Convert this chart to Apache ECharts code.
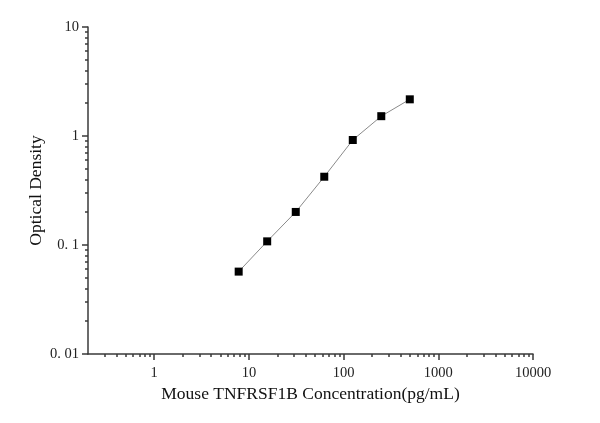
<!DOCTYPE html>
<html>
<head>
<meta charset="utf-8">
<script src="https://cdn.jsdelivr.net/npm/echarts@6/dist/echarts.min.js"></script>
<style>
  html, body { margin: 0; padding: 0; background: #fff; }
  #chart { width: 600px; height: 423px; }
</style>
</head>
<body>
<div id="chart"></div>
<script>
// standard curve points
var concList = [7.8, 15.6, 31.25, 62.5, 125, 250, 500];
var odList = [0.057, 0.108, 0.201, 0.423, 0.919, 1.52, 2.17];

// axis ticks
var xMajorTicks = [1, 10, 100, 1000, 10000];
var xMajorLabels = ['1', '10', '100', '1000', '10000'];
var xMinorTicks = [0.3, 0.4, 0.5, 0.6, 0.7, 0.8, 0.9,
  2, 3, 4, 5, 6, 7, 8, 9,
  20, 30, 40, 50, 60, 70, 80, 90,
  200, 300, 400, 500, 600, 700, 800, 900,
  2000, 3000, 4000, 5000, 6000, 7000, 8000, 9000];
var yMajorTicks = [0.01, 0.1, 1, 10];
var yMajorLabels = ['0. 01', '0. 1', '1', '10'];
var yMinorTicks = [0.02, 0.03, 0.04, 0.05, 0.06, 0.07, 0.08, 0.09,
  0.2, 0.3, 0.4, 0.5, 0.6, 0.7, 0.8, 0.9,
  2, 3, 4, 5, 6, 7, 8, 9];

var FONT = 'Liberation Serif';
var AXIS_COLOR = '#3a3a3a';

function pickLabel(ticks, labels, v) {
  var best = 0;
  for (var i = 1; i < ticks.length; i++) {
    if (Math.abs(Math.log(ticks[i] / v)) < Math.abs(Math.log(ticks[best] / v))) best = i;
  }
  return labels[best];
}

var gridBox = { left: 88, right: 67, top: 27, bottom: 69 };

var option = {
  animation: false,
  grid: [
    Object.assign({}, gridBox),
    Object.assign({}, gridBox)
  ],
  xAxis: [{
    type: 'log',
    gridIndex: 0,
    min: 0.2,
    max: 10000,
    position: 'bottom',
    name: 'Mouse TNFRSF1B Concentration(pg/mL)',
    nameLocation: 'middle',
    nameGap: 31,
    nameMoveOverlap: false,
    nameTextStyle: { fontFamily: FONT, fontSize: 17.5, color: '#111' },
    axisLine: { show: true, lineStyle: { color: AXIS_COLOR, width: 1.5 } },
    axisTick: { show: true, length: 6, customValues: xMajorTicks, lineStyle: { color: AXIS_COLOR, width: 1.5 } },
    axisLabel: {
      customValues: xMajorTicks,
      margin: 12,
      fontFamily: FONT, fontSize: 14.5, color: '#222',
      formatter: function(v) { return pickLabel(xMajorTicks, xMajorLabels, v); }
    },
    splitLine: { show: false }
  }, {
    type: 'log',
    gridIndex: 1,
    min: 0.2,
    max: 10000,
    position: 'bottom',
    axisLine: { show: false },
    axisTick: { show: true, length: 3, customValues: xMinorTicks, lineStyle: { color: AXIS_COLOR, width: 1.5 } },
    axisLabel: { show: false },
    splitLine: { show: false }
  }],
  yAxis: [{
    type: 'log',
    gridIndex: 0,
    min: 0.01,
    max: 10,
    position: 'left',
    name: 'Optical Density',
    nameLocation: 'middle',
    nameGap: 43,
    nameMoveOverlap: false,
    nameTextStyle: { fontFamily: FONT, fontSize: 17.5, color: '#111' },
    axisLine: { show: true, lineStyle: { color: AXIS_COLOR, width: 1.5 } },
    axisTick: { show: true, length: 6, customValues: yMajorTicks, lineStyle: { color: AXIS_COLOR, width: 1.5 } },
    axisLabel: {
      customValues: yMajorTicks,
      margin: 9,
      fontFamily: FONT, fontSize: 14.5, color: '#222',
      formatter: function(v) { return pickLabel(yMajorTicks, yMajorLabels, v); }
    },
    splitLine: { show: false }
  }, {
    type: 'log',
    gridIndex: 1,
    min: 0.01,
    max: 10,
    position: 'left',
    axisLine: { show: false },
    axisTick: { show: true, length: 3, customValues: yMinorTicks, lineStyle: { color: AXIS_COLOR, width: 1.5 } },
    axisLabel: { show: false },
    splitLine: { show: false }
  }],
  series: [{
    type: 'line',
    xAxisIndex: 0,
    yAxisIndex: 0,
    data: concList.map(function(c, i) { return [c, odList[i]]; }),
    symbol: 'rect',
    symbolSize: 8,
    itemStyle: { color: '#000' },
    lineStyle: { color: '#8a8a8a', width: 1 },
    z: 5
  }]
};

var myChart = echarts.init(document.getElementById('chart'));
myChart.setOption(option);
</script>
</body>
</html>
